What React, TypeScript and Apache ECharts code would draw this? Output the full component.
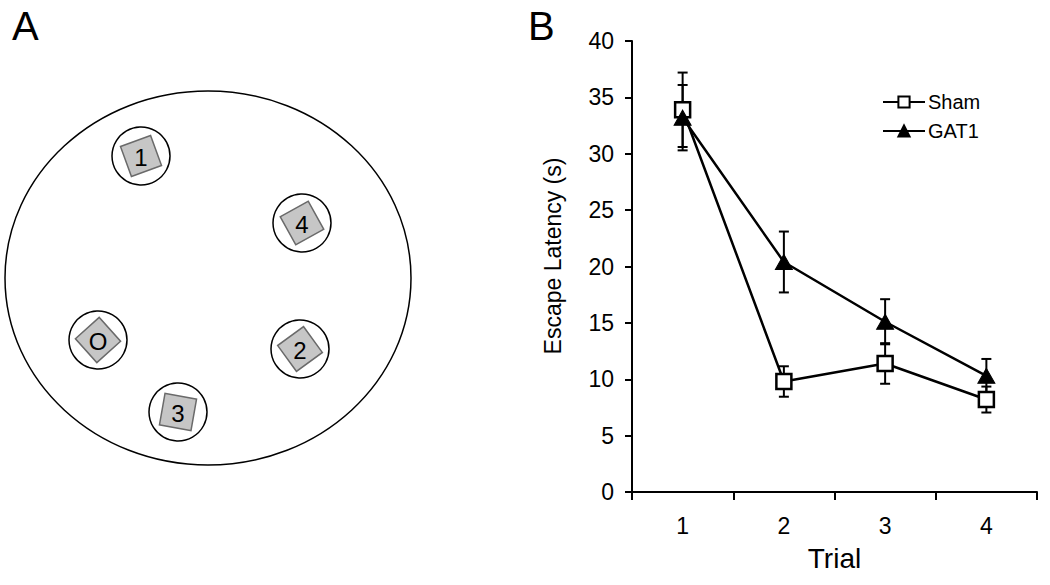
import React, { useEffect, useRef } from "react";
import * as echarts from "echarts";

const trials = ["1", "2", "3", "4"];
const shamMean = [33.9, 9.8, 11.4, 8.2];
const shamErr = [3.3, 1.35, 1.8, 1.15];
const gatMean = [33.2, 20.4, 15.1, 10.3];
const gatErr = [2.9, 2.7, 2.0, 1.5];
const yTicks = { min: 0, max: 40, interval: 5 };

// Panel A: arena layout (platform labels and positions)
const platformLabels = ["1", "4", "O", "2", "3"];
const platformCx = [141, 302, 98, 300, 178];
const platformCy = [156, 223, 340, 349, 412];
const platformRot = [20, 29, 42, 36, -10];

const FONT = "'Liberation Sans', Arial, sans-serif";

export default function App() {
  const ref = useRef<HTMLDivElement>(null);
  useEffect(() => {
    if (!ref.current) return;
    const chart = echarts.init(ref.current, undefined, { renderer: "svg" });

    const errData = (m: number[], e: number[]) =>
      m.map((v, i) => [i, v - e[i], v + e[i]]);

    const errSeries = (name: string, m: number[], e: number[]) => ({
      type: "custom",
      name: name + "_err",
      z: 1,
      silent: true,
      data: errData(m, e),
      encode: { x: 0, y: [1, 2] },
      renderItem: (params: any, api: any) => {
        const x = api.value(0);
        const lo = api.coord([x, api.value(1)]);
        const hi = api.coord([x, api.value(2)]);
        const w = 5;
        const style = { stroke: "#000", lineWidth: 2 };
        return {
          type: "group",
          children: [
            { type: "line", shape: { x1: lo[0], y1: lo[1], x2: hi[0], y2: hi[1] }, style },
            { type: "line", shape: { x1: lo[0] - w, y1: lo[1], x2: lo[0] + w, y2: lo[1] }, style },
            { type: "line", shape: { x1: hi[0] - w, y1: hi[1], x2: hi[0] + w, y2: hi[1] }, style },
          ],
        };
      },
    });

    const graphics: any[] = [
      {
        type: "text",
        left: 12,
        top: 6,
        style: { text: "A", fontSize: 40, fontFamily: FONT, fill: "#000" },
      },
      {
        type: "text",
        left: 528,
        top: 6,
        style: { text: "B", fontSize: 40, fontFamily: FONT, fill: "#000" },
      },
      {
        type: "text",
        x: 553,
        y: 256,
        rotation: Math.PI / 2,
        style: {
          text: "Escape Latency (s)",
          fontSize: 23,
          fontFamily: FONT,
          fill: "#000",
          align: "center",
          verticalAlign: "middle",
        },
      },
      {
        type: "ellipse",
        shape: { cx: 208, cy: 278, rx: 203, ry: 187 },
        style: { fill: "none", stroke: "#000", lineWidth: 1.5 },
      },
    ];
    platformLabels.forEach((lab, i) => {
      graphics.push({
        type: "circle",
        shape: { cx: platformCx[i], cy: platformCy[i], r: 29 },
        style: { fill: "#fff", stroke: "#000", lineWidth: 1.5 },
      });
      graphics.push({
        type: "rect",
        x: platformCx[i],
        y: platformCy[i],
        rotation: (platformRot[i] * Math.PI) / 180,
        shape: { x: -16, y: -16, width: 32, height: 32 },
        style: { fill: "#c6c6c6", stroke: "#6a6a6a", lineWidth: 1.5 },
      });
      graphics.push({
        type: "text",
        x: platformCx[i],
        y: platformCy[i] + 1,
        style: {
          text: lab,
          fontSize: 24,
          fontFamily: FONT,
          fill: "#000",
          align: "center",
          verticalAlign: "middle",
        },
      });
    });

    chart.setOption({
      animation: false,
      backgroundColor: "#fff",
      textStyle: { fontFamily: FONT, color: "#000" },
      graphic: graphics,
      grid: { left: 632, right: 13, top: 41, bottom: 93, containLabel: false },
      legend: {
        orient: "vertical",
        left: 882,
        top: 92,
        itemWidth: 42,
        itemHeight: 14,
        itemGap: 9,
        padding: 0,
        data: ["Sham", "GAT1"],
        textStyle: { fontSize: 20, fontFamily: FONT, color: "#000", padding: [0, 0, 0, -2] },
      },
      xAxis: {
        type: "category",
        data: trials,
        boundaryGap: true,
        name: "Trial",
        nameLocation: "middle",
        nameGap: 52,
        nameTextStyle: { fontSize: 28, fontFamily: FONT, color: "#000" },
        axisLine: { lineStyle: { color: "#000", width: 2 } },
        axisTick: { show: true, length: 8, lineStyle: { color: "#000", width: 2 } },
        axisLabel: { fontSize: 23, fontFamily: FONT, color: "#000", margin: 22 },
        splitLine: { show: false },
      },
      yAxis: {
        type: "value",
        min: yTicks.min,
        max: yTicks.max,
        interval: yTicks.interval,
        axisLine: { show: true, lineStyle: { color: "#000", width: 2 } },
        axisTick: { show: true, length: 7, lineStyle: { color: "#000", width: 2 } },
        axisLabel: { fontSize: 23, fontFamily: FONT, color: "#000", margin: 18 },
        splitLine: { show: false },
      },
      series: [
        errSeries("Sham", shamMean, shamErr),
        errSeries("GAT1", gatMean, gatErr),
        {
          name: "Sham",
          type: "line",
          z: 3,
          data: shamMean,
          symbol: "rect",
          symbolSize: 15,
          showAllSymbol: true,
          lineStyle: { color: "#000", width: 2.5 },
          itemStyle: { color: "#fff", borderColor: "#000", borderWidth: 2.5 },
        },
        {
          name: "GAT1",
          type: "line",
          z: 4,
          data: gatMean,
          symbol: "triangle",
          symbolSize: [17, 15],
          showAllSymbol: true,
          lineStyle: { color: "#000", width: 2.5 },
          itemStyle: { color: "#000", borderColor: "#000", borderWidth: 1 },
        },
      ],
    });
    return () => chart.dispose();
  }, []);
  return (
    <div
      ref={ref}
      style={{ position: "fixed", left: 0, top: 0, width: 1050, height: 585 }}
    />
  );
}
